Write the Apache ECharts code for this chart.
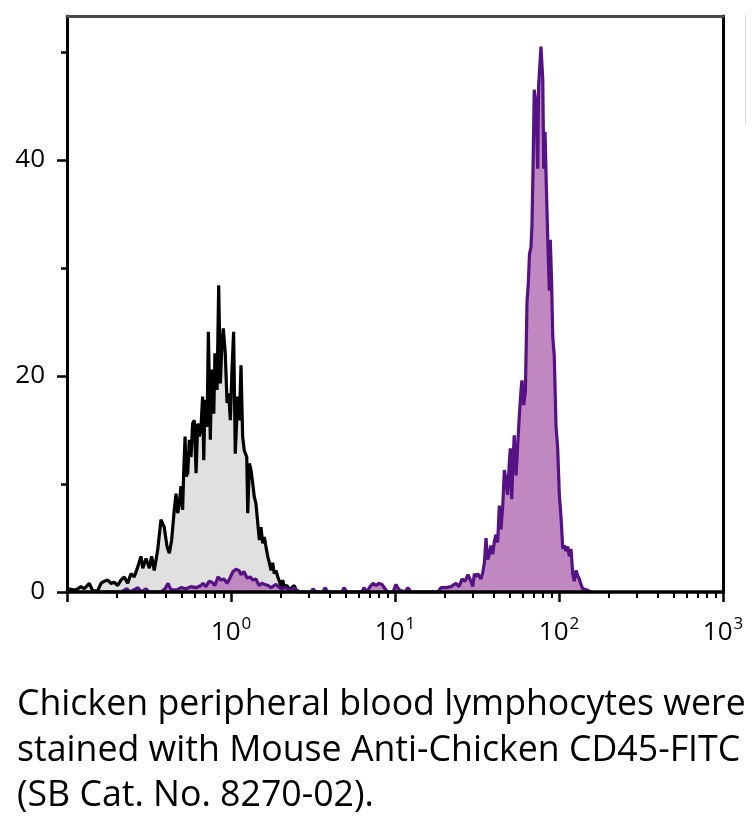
<!DOCTYPE html>
<html>
<head>
<meta charset="utf-8">
<script src="https://cdn.jsdelivr.net/npm/echarts@6/dist/echarts.min.js"></script>
<style>
html,body{margin:0;padding:0;background:#fff;}
#chart{width:755px;height:823px;}
</style>
</head>
<body>
<div id="chart"></div>
<script>
// Control (unstained) histogram: channel position as log10 exponent, and count
var ctrlExp = [-0.988,-0.965,-0.945,-0.915,-0.895,-0.864,-0.843,-0.813,-0.793,-0.773,-0.752,-0.732,-0.712,-0.691,-0.671,-0.651,-0.630,-0.610,-0.590,-0.569,-0.549,-0.538,-0.518,-0.498,-0.484,-0.468,-0.447,-0.427,-0.407,-0.390,-0.376,-0.362,-0.346,-0.335,-0.325,-0.315,-0.305,-0.295,-0.288,-0.280,-0.274,-0.264,-0.254,-0.244,-0.234,-0.224,-0.213,-0.203,-0.193,-0.183,-0.173,-0.166,-0.159,-0.146,-0.138,-0.126,-0.118,-0.105,-0.098,-0.085,-0.075,-0.065,-0.057,-0.047,-0.035,-0.024,-0.014,-0.004,0.006,0.016,0.026,0.041,0.051,0.061,0.071,0.081,0.096,0.102,0.112,0.122,0.132,0.142,0.152,0.163,0.173,0.183,0.193,0.203,0.213,0.224,0.234,0.244,0.254,0.264,0.274,0.285,0.295,0.305,0.315,0.325,0.341,0.355,0.386,0.396,0.420];
var ctrlCount = [0.3,0.2,0.2,0.5,0.3,0.8,0.1,0.1,0.8,1.0,1.1,0.8,0.9,0.6,1.1,1.4,0.8,1.7,1.4,2.3,3.3,2.2,3.1,2.2,3.3,2.0,3.9,6.7,6.0,4.2,3.6,4.8,7.6,9.1,7.3,8.2,9.8,7.6,11.3,14.4,10.7,11.0,14.1,12.5,15.6,15.9,11.0,15.6,14.4,15.3,18.1,12.2,17.8,15.3,24.1,14.1,20.6,16.5,22.1,18.7,28.4,19.3,22.4,24.4,22.1,17.5,18.4,15.9,20.6,24.1,12.8,18.1,15.9,21.0,14.4,13.1,12.5,7.3,11.9,11.3,10.1,8.8,8.2,6.4,4.8,6.0,4.5,5.1,4.2,3.3,2.7,2.0,2.7,1.7,2.0,1.4,1.0,0.5,1.1,0.5,0.6,0.2,0.6,0.2,0];

// CD45-FITC stained histogram
var cd45Exp = [-0.793,-0.671,-0.634,-0.616,-0.567,-0.549,-0.518,-0.500,-0.427,-0.402,-0.384,-0.366,-0.329,-0.305,-0.274,-0.244,-0.213,-0.183,-0.171,-0.152,-0.134,-0.116,-0.098,-0.079,-0.061,-0.043,-0.024,-0.006,0.012,0.030,0.049,0.061,0.079,0.098,0.116,0.134,0.152,0.171,0.189,0.207,0.226,0.244,0.274,0.305,0.335,0.366,0.384,0.402,0.488,0.500,0.518,0.561,0.573,0.591,0.677,0.689,0.707,0.799,0.811,0.829,0.848,0.866,0.884,0.902,0.921,0.939,0.957,0.988,1.006,1.024,1.061,1.079,1.098,1.262,1.280,1.311,1.341,1.372,1.390,1.409,1.427,1.445,1.463,1.474,1.484,1.494,1.504,1.524,1.535,1.545,1.555,1.565,1.575,1.585,1.596,1.606,1.616,1.626,1.636,1.646,1.657,1.667,1.677,1.687,1.697,1.703,1.712,1.718,1.727,1.738,1.748,1.758,1.768,1.774,1.785,1.795,1.805,1.813,1.820,1.829,1.835,1.841,1.849,1.860,1.870,1.876,1.890,1.901,1.907,1.915,1.921,1.931,1.941,1.947,1.955,1.962,1.971,1.982,1.992,2.002,2.012,2.023,2.032,2.043,2.053,2.063,2.073,2.084,2.093,2.104,2.114,2.124,2.134,2.145,2.165,2.195];
var cd45Count = [0,0,0.3,0,0.4,0,0.3,0,0,0.3,0.8,0.2,0.2,0.4,0.3,0.5,0.4,0.6,0.8,0.5,1.0,0.9,0.6,1.4,1.1,1.2,0.8,1.3,1.9,2.1,2.0,1.6,1.9,1.3,1.4,1.1,1.2,0.6,0.8,0.7,0.6,0.4,0.7,0.3,0.4,0.1,0.4,0,0,0.3,0,0,0.4,0,0,0.4,0,0,0.4,0,0.5,0.8,0.6,0.8,0.7,0.3,0,0,0.7,0.2,0,0.4,0,0,0.4,0.4,0.5,0.8,0.5,1.2,1.0,1.6,1.0,0.5,1.7,1.4,1.7,1.2,1.8,2.7,5.0,3.0,3.5,4.3,3.5,4.7,5.3,4.6,8.0,5.8,8.0,11.3,10.3,9.0,12.0,13.3,8.6,11.6,14.5,10.8,13.6,16.3,18.6,19.6,17.3,18.6,26.9,28.6,31.3,31.9,33.9,38.6,46.5,45.2,39.2,46.9,50.5,47.5,39.2,42.6,38.6,32.9,27.9,32.6,28.6,23.6,21.9,15.3,13.3,9.0,7.0,4.0,4.3,3.8,4.2,3.3,4.0,1.7,1.0,2.0,1.5,1.2,0.7,0.3,0.2,0];

var yLabelValues = [0, 20, 40];
var yMinorValues = [10, 30, 50];
var xMinorValues = [0.2,0.3,0.4,0.5,0.6,0.7,0.8,0.9,2,3,4,5,6,7,8,9,20,30,40,50,60,70,80,90,200,300,400,500,600,700,800,900];
var xMin = 0.1, xMax = 1000, yMin = 0, yMax = 53.33;
var captionLines = [
  'Chicken peripheral blood lymphocytes were',
  'stained with Mouse Anti-Chicken CD45-FITC',
  '(SB Cat. No. 8270-02).'
];

function pairs(ex, ct) { return ex.map(function (e, i) { return [Math.pow(10, e), ct[i]]; }); }

var FONT = "'Open Sans', 'Noto Sans', sans-serif";
var chart = echarts.init(document.getElementById('chart'), null, {renderer: 'canvas'});
var grid = {left: 67, right: 32, top: 16, bottom: 231, containLabel: false};

chart.setOption({
  animation: false,
  backgroundColor: '#ffffff',
  grid: grid,
  xAxis: [
    {
      type: 'log', logBase: 10, min: xMin, max: xMax, position: 'bottom', z: 10,
      splitLine: {show: false},
      axisLine: {show: true, onZero: false, lineStyle: {color: '#000', width: 3.5}},
      axisTick: {show: true, inside: false, length: 10, lineStyle: {color: '#000', width: 2.5}},
      axisLabel: {
        show: true, margin: 26, fontFamily: FONT,
        formatter: function (v) {
          var e = Math.round(Math.log10(v));
          if (e < 0) return '';
          return '{b|10}{s|' + e + '}';
        },
        rich: {
          b: {fontSize: 26, color: '#000', fontFamily: FONT, lineHeight: 30},
          s: {fontSize: 17, color: '#000', fontFamily: FONT, lineHeight: 30, padding: [0, 0, 18, 1]}
        }
      }
    },
    {
      type: 'log', logBase: 10, min: xMin, max: xMax, position: 'bottom', z: 10,
      splitLine: {show: false},
      axisLine: {show: false},
      axisTick: {show: true, inside: false, length: 6, customValues: xMinorValues, lineStyle: {color: '#000', width: 2}},
      axisLabel: {show: false}
    },
    {
      type: 'log', logBase: 10, min: xMin, max: xMax, position: 'top', z: 10,
      splitLine: {show: false},
      axisLine: {show: true, onZero: false, lineStyle: {color: '#4a4a4a', width: 3}},
      axisTick: {show: false}, axisLabel: {show: false}
    }
  ],
  yAxis: [
    {
      type: 'value', min: yMin, max: yMax, position: 'left', z: 10,
      splitLine: {show: false},
      axisLine: {show: true, onZero: false, lineStyle: {color: '#000', width: 3}},
      axisTick: {show: true, inside: false, length: 10, customValues: yLabelValues, lineStyle: {color: '#000', width: 2.5}},
      axisLabel: {show: true, customValues: yLabelValues, margin: 22, fontSize: 26, color: '#000', fontFamily: FONT}
    },
    {
      type: 'value', min: yMin, max: yMax, position: 'left', z: 10,
      splitLine: {show: false},
      axisLine: {show: false},
      axisTick: {show: true, inside: false, length: 6, customValues: yMinorValues, lineStyle: {color: '#000', width: 2.5}},
      axisLabel: {show: false}
    },
    {
      type: 'value', min: yMin, max: yMax, position: 'right', z: 10,
      splitLine: {show: false},
      axisLine: {show: true, onZero: false, lineStyle: {color: '#000', width: 3}},
      axisTick: {show: false}, axisLabel: {show: false}
    }
  ],
  series: [
    {
      name: 'Control', type: 'line', xAxisIndex: 0, yAxisIndex: 0,
      data: pairs(ctrlExp, ctrlCount), showSymbol: false, symbol: 'none', smooth: false,
      lineStyle: {color: '#000000', width: 3.2},
      areaStyle: {color: '#e0e0e0', opacity: 1}, z: 2
    },
    {
      name: 'CD45-FITC', type: 'line', xAxisIndex: 0, yAxisIndex: 0,
      data: pairs(cd45Exp, cd45Count), showSymbol: false, symbol: 'none', smooth: false,
      lineStyle: {color: '#541284', width: 3.2},
      areaStyle: {color: '#c088c0', opacity: 1}, z: 3
    }
  ],
  graphic: [
    {type: 'line', shape: {x1: 745.5, y1: 15, x2: 745.5, y2: 124}, style: {stroke: '#d8d8d8', lineWidth: 1}, silent: true},
    {type: 'text', left: 17, top: 687, style: {text: captionLines[0], font: '35.7px ' + FONT, fill: '#000'}},
    {type: 'text', left: 17, top: 733, style: {text: captionLines[1], font: '35.7px ' + FONT, fill: '#000'}},
    {type: 'text', left: 17, top: 778, style: {text: captionLines[2], font: '35.7px ' + FONT, fill: '#000'}}
  ]
});
</script>
</body>
</html>
